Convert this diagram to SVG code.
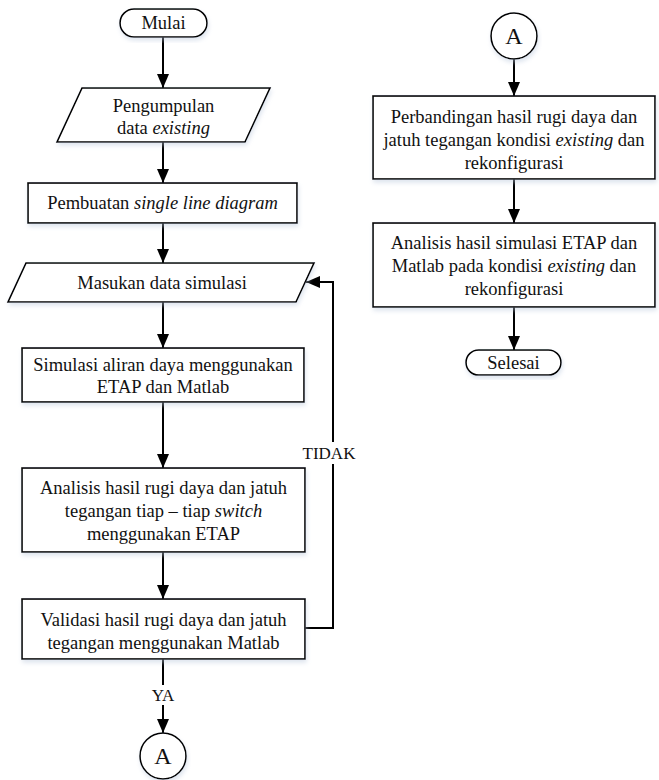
<svg xmlns="http://www.w3.org/2000/svg" width="659" height="780" viewBox="0 0 659 780" font-family="'Liberation Serif', 'Times New Roman', 'DejaVu Serif', serif">
<defs>
<marker id="ah" markerWidth="14" markerHeight="12" refX="14" refY="6" orient="auto" markerUnits="userSpaceOnUse">
<path d="M0,0 L14,6 L0,12 Z" fill="#000"/>
</marker>
<filter id="sh" x="-10%" y="-10%" width="120%" height="130%">
<feDropShadow dx="1" dy="3" stdDeviation="2" flood-color="#b8c6dc" flood-opacity="0.45"/>
</filter>
</defs>
<style>
.box{fill:#fff;stroke:#000;stroke-width:1.6;filter:url(#sh)}
.t{font-family:'Liberation Serif','Times New Roman','DejaVu Serif',serif;font-size:18.5px;fill:#111;text-anchor:middle}
.big{font-size:24px}
.lbl{font-size:17px}
.c{fill:none;stroke:#000;stroke-width:2}
.i{font-style:italic}
</style>
<rect width="659" height="780" fill="#fff"/>

<g id="connectors">
<path class="c" d="M163,37 V88" marker-end="url(#ah)"/>
<path class="c" d="M163,142 V183" marker-end="url(#ah)"/>
<path class="c" d="M163,223 V263" marker-end="url(#ah)"/>
<path class="c" d="M163,302 V348" marker-end="url(#ah)"/>
<path class="c" d="M163,402 V468" marker-end="url(#ah)"/>
<path class="c" d="M163,552 V599" marker-end="url(#ah)"/>
<path class="c" d="M163,659 V733" marker-end="url(#ah)"/>
<path class="c" d="M305,628 H333 V282 H306" marker-end="url(#ah)"/>
<path class="c" d="M514,59 V96" marker-end="url(#ah)"/>
<path class="c" d="M514,179 V223" marker-end="url(#ah)"/>
<path class="c" d="M514,307 V350" marker-end="url(#ah)"/>
<rect x="301" y="442" width="56" height="22" fill="#fff"/>
<text class="t lbl" x="329" y="459">TIDAK</text>
<rect x="148" y="685" width="30" height="20" fill="#fff"/>
<text class="t lbl" x="163" y="701">YA</text>
</g>

<g id="mulai">
<rect class="box" x="120" y="9" width="87" height="28" rx="14"/>
<text class="t" x="163.5" y="29">Mulai</text>
</g>

<g id="pengumpulan">
<polygon class="box" points="82,88 270,88 245,142 57,142"/>
<text class="t" x="163.5" y="112">Pengumpulan</text>
<text class="t" x="163.5" y="134">data <tspan class="i">existing</tspan></text>
</g>

<g id="pembuatan">
<rect class="box" x="28" y="183" width="269" height="40"/>
<text class="t" x="162.5" y="209">Pembuatan <tspan class="i">single line diagram</tspan></text>
</g>

<g id="masukan">
<polygon class="box" points="26,263 314,263 296,302 8,302"/>
<text class="t" x="162" y="289">Masukan data simulasi</text>
</g>

<g id="simulasi">
<rect class="box" x="22" y="348" width="282" height="54"/>
<text class="t" x="163" y="371">Simulasi aliran daya menggunakan</text>
<text class="t" x="163" y="393">ETAP dan Matlab</text>
</g>

<g id="analisis-switch">
<rect class="box" x="22" y="468" width="283" height="84"/>
<text class="t" x="163.5" y="494">Analisis hasil rugi daya dan jatuh</text>
<text class="t" x="163.5" y="517">tegangan tiap – tiap <tspan class="i">switch</tspan></text>
<text class="t" x="163.5" y="540">menggunakan ETAP</text>
</g>

<g id="validasi">
<rect class="box" x="22" y="599" width="283" height="60"/>
<text class="t" x="163.5" y="626">Validasi hasil rugi daya dan jatuh</text>
<text class="t" x="163.5" y="649">tegangan menggunakan Matlab</text>
</g>

<g id="connector-a-bottom">
<circle class="box" cx="163" cy="756" r="23"/>
<text class="t big" x="163" y="764">A</text>
</g>

<g id="connector-a-top">
<circle class="box" cx="514" cy="36" r="23"/>
<text class="t big" x="514" y="44">A</text>
</g>

<g id="perbandingan">
<rect class="box" x="373" y="96" width="282" height="83"/>
<text class="t" x="514" y="123">Perbandingan hasil rugi daya dan</text>
<text class="t" x="514" y="146">jatuh tegangan kondisi <tspan class="i">existing</tspan> dan</text>
<text class="t" x="514" y="169">rekonfigurasi</text>
</g>

<g id="analisis-simulasi">
<rect class="box" x="373" y="223" width="282" height="84"/>
<text class="t" x="514" y="249">Analisis hasil simulasi ETAP dan</text>
<text class="t" x="514" y="272">Matlab pada kondisi <tspan class="i">existing</tspan> dan</text>
<text class="t" x="514" y="295">rekonfigurasi</text>
</g>

<g id="selesai">
<rect class="box" x="466" y="350" width="95" height="25" rx="12.5"/>
<text class="t" x="513.5" y="369">Selesai</text>
</g>
</svg>
